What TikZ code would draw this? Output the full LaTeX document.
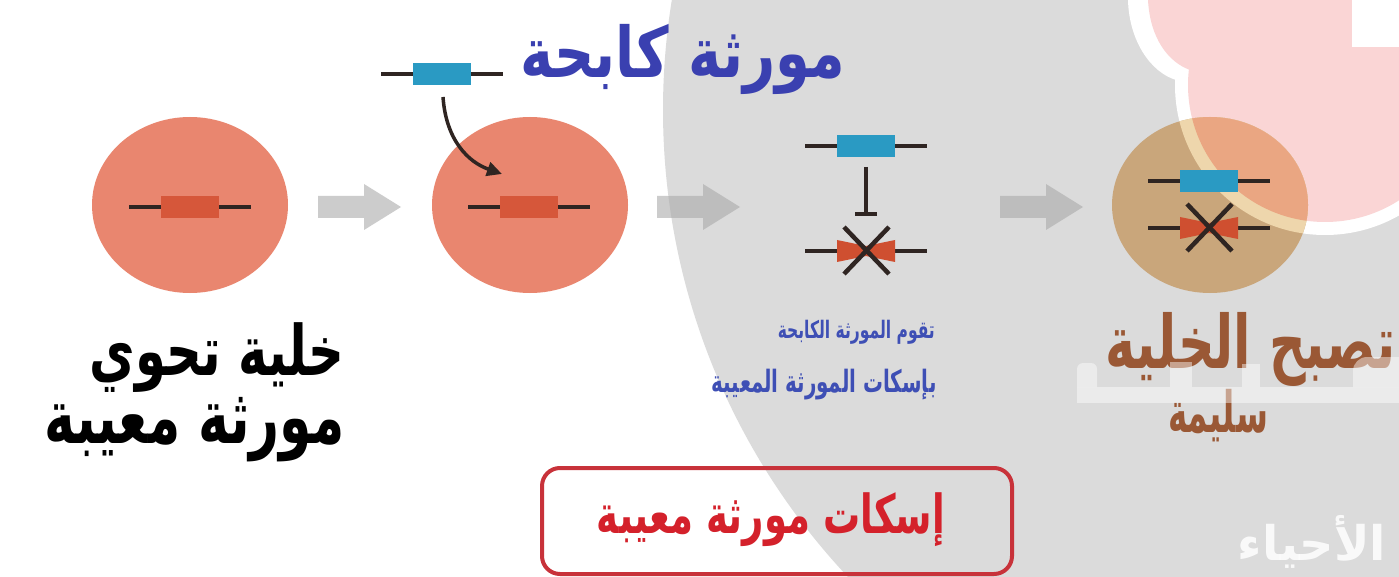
\documentclass[tikz,border=0pt]{standalone}
\usepackage{fontspec}
\usepackage{graphicx}
\newfontfamily\arabicfont[Script=Arabic]{DejaVu Sans}
\TeXXeTstate=1
\usetikzlibrary{arrows.meta,shapes.geometric}

\definecolor{wmgrey}{HTML}{DBDBDB}
\definecolor{wmpink}{HTML}{FAD5D5}
\definecolor{cellsalmon}{HTML}{E9866F}
\definecolor{celltan}{HTML}{C9A67B}
\definecolor{tancream}{HTML}{EED6AC}
\definecolor{tanorange}{HTML}{EAA682}
\definecolor{genered}{HTML}{D6573A}
\definecolor{brokenred}{HTML}{CF4F30}
\definecolor{geneblue}{HTML}{2A9AC3}
\definecolor{geneline}{HTML}{2F2522}
\definecolor{titleblue}{HTML}{3A40B0}
\definecolor{noteblue}{HTML}{3E4FB5}
\definecolor{boxred}{HTML}{C8323A}
\definecolor{textred}{HTML}{D4212B}
\definecolor{healthbrown}{HTML}{9A5835}
\definecolor{arrowgrey}{HTML}{AAAAAA}

% bold Arabic line: #1 = width, #2 = vertical stretch, #3 = the text
\newcommand\arbox[3]{\resizebox{#1}{!}{\scalebox{1}[#2]{\arabicfont\bfseries #3}}}

\begin{document}
\begin{tikzpicture}[x=1pt,y=-1pt,
  cellnode/.style={ellipse, inner sep=0pt, minimum width=196pt, minimum height=176pt},
  genewire/.style={draw=geneline, line width=3.5pt},
  crossline/.style={draw=geneline, line width=4.5pt},
  artxt/.style={inner sep=0pt},
  pics/gene/.style={code={
    \draw[genewire] (-61,0) -- (61,0);
    \fill[#1] (-29,-11) rectangle (29,11);}},
  pics/brokengene/.style={code={
    \draw[genewire] (-61,0) -- (61,0);
    \fill[brokenred] (-29,-11) -- (0,-5) -- (29,-11) -- (29,11) -- (0,5) -- (-29,11) -- cycle;
    \draw[crossline] (-22,-24) -- (23,23);
    \draw[crossline] (23,-24) -- (-22,23);}},
  pics/blockarrow/.style={code={
    \fill[arrowgrey, fill opacity=.6] (0,-11) -- (46,-11) -- (46,-23) -- (83,0)
      -- (46,23) -- (46,11) -- (0,11) -- cycle;}}
]
\useasboundingbox (0,0) rectangle (1399,577);
\begin{scope}
\clip (0,0) rectangle (1399,577);

% background and watermark
\fill[white] (0,0) rectangle (1399,577);
\fill[wmgrey] (1345,110) circle [radius=682];
\fill[white] (1325,85) circle [radius=150];
\fill[white] (1128,0) .. controls (1129,40) and (1150,72) .. (1176,80)
  -- (1176,90) -- (1399,90) -- (1399,0) -- cycle;
\fill[wmpink] (1325,85) circle [radius=137];
\fill[wmpink] (1148,0) .. controls (1150,38) and (1168,62) .. (1190,70)
  -- (1190,90) -- (1399,90) -- (1399,0) -- cycle;
\fill[white] (1352,0) rectangle (1399,47);

% cells
\node[cellnode, fill=cellsalmon] (cell1) at (190,205) {};
\node[cellnode, fill=cellsalmon] (cell2) at (530,205) {};
\node[cellnode, fill=celltan] (cell4) at (1210,205) {};
\begin{scope}
  \clip (1210,205) ellipse [x radius=98, y radius=88];
  \fill[tancream] (1325,85) circle [radius=150];
  \fill[tanorange] (1325,85) circle [radius=137];
\end{scope}

% genes
\pic at (190,207) {gene=genered};
\pic at (529,207) {gene=genered};
\pic at (442,74) {gene=geneblue};
\pic at (866,146) {gene=geneblue};
\pic at (866,251) {brokengene};
\pic at (1209,181) {gene=geneblue};
\pic at (1209,228) {brokengene};

% suppressor gene entering the cell
\coordinate (fromgene) at (443,97);
\coordinate (intocell) at (502,174);
\draw[geneline, line width=3.5pt, -{Triangle[length=15pt,width=14pt]}]
  (fromgene) .. controls (446,140) and (468,162) .. (intocell);

% inhibition bar
\coordinate (tb1) at (866,167);
\coordinate (tb2) at (866,216);
\draw[geneline, line width=3.5pt, -{Bar[width=22pt]}] (tb1) -- (tb2);

% process arrows
\pic at (318,207) {blockarrow};
\pic at (657,207) {blockarrow};
\pic at (1000,207) {blockarrow};

% texts
\node[artxt, text=titleblue] (title) at (683,59)
  {\arbox{325pt}{1.25}{\beginR مورثة كابحة\endR}};
\node[artxt, anchor=east] (defect1) at (345,358)
  {\arbox{255pt}{1.4}{\beginR خلية تحوي\endR}};
\node[artxt, anchor=east] (defect2) at (345,430)
  {\arbox{300pt}{1.45}{\beginR مورثة معيبة\endR}};
\node[artxt, anchor=east, text=noteblue] (note1) at (935,332)
  {\arbox{157pt}{1.55}{\beginR تقوم المورثة الكابحة\endR}};
\node[artxt, anchor=east, text=noteblue] (note2) at (937,385)
  {\arbox{225pt}{1.55}{\beginR بإسكات المورثة المعيبة\endR}};
\node[artxt, anchor=east, text=healthbrown] (healthy1) at (1396,349)
  {\arbox{290pt}{1.45}{\beginR تصبح الخلية\endR}};
\node[artxt, text=healthbrown] (healthy2) at (1218,416)
  {\arbox{100pt}{1.75}{\beginR سليمة\endR}};

% watermark letters over the brown text
\begin{scope}[fill opacity=.45]
  \fill[white] (1077,387) rectangle (1399,403);
  \fill[white, rounded corners=6pt] (1077,387) -- (1077,363) -- (1097,363) -- (1097,387);
  \fill[white] (1170,362) rectangle (1192,387);
  \fill[white] (1242,364) rectangle (1260,387);
  \fill[white, rounded corners=14pt] (1353,387) -- (1353,357) -- (1420,357) -- (1420,387);
\end{scope}
\node[artxt, text=white, text opacity=.85] (wmtext) at (1312,542)
  {\arbox{148pt}{1.0}{\beginR الأحياء\endR}};

% summary box
\node[draw=boxred, line width=4pt, rounded corners=18pt, minimum width=470pt,
  minimum height=106pt, inner sep=0pt] (summary) at (777,521) {};
\node[artxt, text=textred] (summarytext) at (771,520)
  {\arbox{348pt}{1.45}{\beginR إسكات مورثة معيبة\endR}};
\end{scope}
\end{tikzpicture}
\end{document}
